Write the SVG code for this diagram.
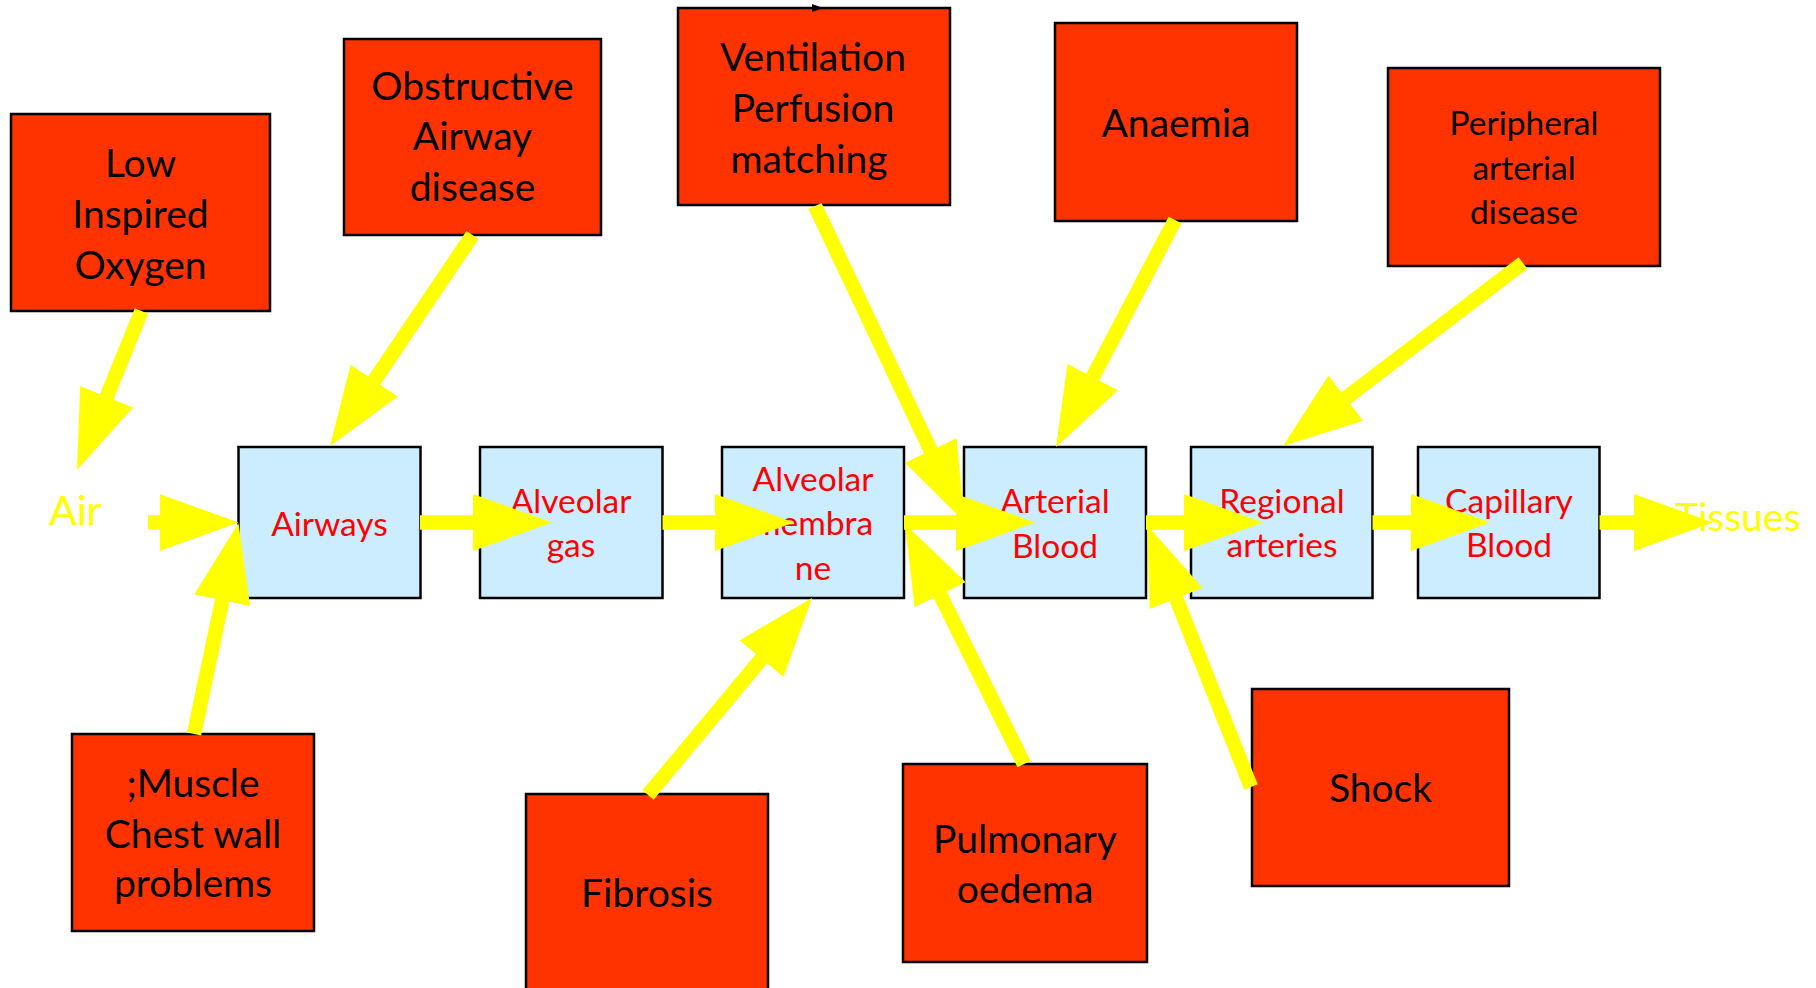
<svg xmlns="http://www.w3.org/2000/svg" width="1816" height="988" viewBox="0 0 1816 988">
<style>
.cause{fill:#FF3300;stroke:#000;stroke-width:2.5}
.step{fill:#CCECFF;stroke:#000;stroke-width:2.5}
.ct{font-family:Lato,"Liberation Sans",sans-serif;font-size:39px;fill:#000;text-anchor:middle}
.ct2{font-family:Lato,"Liberation Sans",sans-serif;font-size:33.5px;fill:#000;text-anchor:middle}
.st{font-family:Lato,"Liberation Sans",sans-serif;font-size:33.5px;fill:#FF0000;text-anchor:middle}
.yt{font-family:Lato,"Liberation Sans",sans-serif;fill:#FFFF00}
.arr{stroke:#FFFF00;stroke-width:14.5;fill:none;marker-end:url(#ah)}
</style>
<defs>
<marker id="ah" markerUnits="userSpaceOnUse" markerWidth="79" markerHeight="57" viewBox="0 0 79 57" refX="39" refY="28.5" orient="auto">
<path d="M0,0 L79,28.5 L0,57 Z" fill="#FFFF00"/>
</marker>
</defs>
<rect width="1816" height="988" fill="#fff"/>
<g id="low-inspired-oxygen">
<rect class="cause" x="11" y="114" width="259" height="197"/>
<text class="ct" x="140.5" y="177">Low</text>
<text class="ct" x="140.5" y="228">Inspired</text>
<text class="ct" x="140.5" y="279">Oxygen</text>
</g>
<g id="obstructive-airway-disease">
<rect class="cause" x="344" y="39" width="257" height="196"/>
<text class="ct" x="472.5" y="100">Obstructive</text>
<text class="ct" x="472.5" y="150">Airway</text>
<text class="ct" x="472.5" y="201">disease</text>
</g>
<g id="vq-matching">
<rect class="cause" x="678" y="8" width="272" height="197"/>
<text class="ct" x="813" y="71">Ventilation</text>
<text class="ct" x="813" y="122">Perfusion</text>
<text class="ct" x="809" y="173">matching</text>
</g>
<g id="anaemia">
<rect class="cause" x="1055" y="23" width="242" height="198"/>
<text class="ct" x="1176" y="137">Anaemia</text>
</g>
<g id="peripheral-arterial-disease">
<rect class="cause" x="1388" y="68" width="272" height="198"/>
<text class="ct2" x="1524" y="135">Peripheral</text>
<text class="ct2" x="1524" y="180">arterial</text>
<text class="ct2" x="1524" y="224">disease</text>
</g>
<g id="muscle-chest-wall">
<rect class="cause" x="72" y="734" width="242" height="197"/>
<text class="ct" x="193" y="797">;Muscle</text>
<text class="ct" x="193" y="848">Chest wall</text>
<text class="ct" x="193" y="897">problems</text>
</g>
<g id="fibrosis">
<rect class="cause" x="526" y="794" width="242" height="210"/>
<text class="ct" x="647" y="907">Fibrosis</text>
</g>
<g id="pulmonary-oedema">
<rect class="cause" x="903" y="764" width="244" height="198"/>
<text class="ct" x="1025" y="853">Pulmonary</text>
<text class="ct" x="1025" y="903">oedema</text>
</g>
<g id="shock">
<rect class="cause" x="1252" y="689" width="257" height="197"/>
<text class="ct" x="1380.5" y="802">Shock</text>
</g>
<g id="air">
<text class="yt" x="49" y="525" font-size="41">Air</text>
</g>
<g id="airways">
<rect class="step" x="238.5" y="447" width="182" height="151"/>
<text class="st" x="329.5" y="536">Airways</text>
</g>
<g id="alveolar-gas">
<rect class="step" x="480" y="447" width="182.5" height="151"/>
<text class="st" x="571" y="513">Alveolar</text>
<text class="st" x="571" y="557">gas</text>
</g>
<g id="alveolar-membrane">
<rect class="step" x="722" y="447" width="182" height="151"/>
<text class="st" x="813" y="491">Alveolar</text>
<text class="st" x="813" y="535">membra</text>
<text class="st" x="813" y="580">ne</text>
</g>
<g id="arterial-blood">
<rect class="step" x="964" y="447" width="182" height="151"/>
<text class="st" x="1055" y="513">Arterial</text>
<text class="st" x="1055" y="558">Blood</text>
</g>
<g id="regional-arteries">
<rect class="step" x="1191" y="447" width="181.5" height="151"/>
<text class="st" x="1282" y="513">Regional</text>
<text class="st" x="1282" y="557">arteries</text>
</g>
<g id="capillary-blood">
<rect class="step" x="1418" y="447" width="181.5" height="151"/>
<text class="st" x="1509" y="513">Capillary</text>
<text class="st" x="1509" y="557">Blood</text>
</g>
<g id="connectors">
<line class="arr" x1="141.5" y1="311" x2="92" y2="432.9"/>
<line class="arr" x1="472.5" y1="235" x2="352.4" y2="412.9"/>
<line class="arr" x1="815" y1="206" x2="947.4" y2="485.8"/>
<line class="arr" x1="1175" y1="220" x2="1074.6" y2="411.6"/>
<line class="arr" x1="1523" y1="263" x2="1314.8" y2="421.7"/>
<line class="arr" x1="148" y1="522.5" x2="198.5" y2="522.5"/>
<line class="arr" x1="420" y1="522.5" x2="512" y2="522.5"/>
<line class="arr" x1="662.5" y1="522.5" x2="754" y2="522.5"/>
<line class="arr" x1="904" y1="522.5" x2="995" y2="522.5"/>
<line class="arr" x1="1146" y1="522.5" x2="1223" y2="522.5"/>
<line class="arr" x1="1372.5" y1="522.5" x2="1450" y2="522.5"/>
<line class="arr" x1="1599.5" y1="522.5" x2="1673" y2="522.5"/>
<line class="arr" x1="194" y1="734" x2="230.2" y2="562.1"/>
<line class="arr" x1="648" y1="795" x2="786.4" y2="628.7"/>
<line class="arr" x1="1024" y1="764" x2="922.8" y2="559.8"/>
<line class="arr" x1="1251" y1="787" x2="1161.8" y2="562.2"/>
<path d="M812,4 L823,8 L812,12 Z" fill="#000"/>
</g>
<g id="tissues">
<text class="yt" x="1675" y="531" font-size="39">Tissues</text>
</g>
</svg>
